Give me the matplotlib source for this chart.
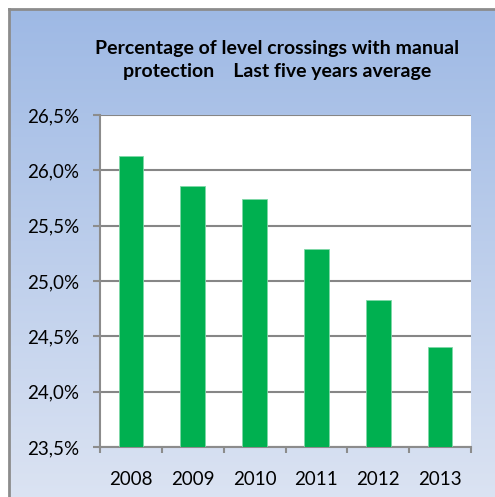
import numpy as np
import matplotlib.pyplot as plt
from matplotlib.lines import Line2D
from matplotlib.ticker import FuncFormatter, FixedLocator

years = ['2008', '2009', '2010', '2011', '2012', '2013']
share = [26.13, 25.86, 25.74, 25.29, 24.83, 24.40]
title = 'Percentage of level crossings with manual\nprotection    Last five years average'

plt.rcParams['font.family'] = ['Lato', 'DejaVu Sans']

fig = plt.figure(figsize=(4.95, 4.97), dpi=100)
fig.patch.set_facecolor('white')

# gradient background inside the chart frame (frame starts ~9px from top/left)
fx, fy = 9 / 495, 1 - 9 / 497
bg = fig.add_axes([fx, 0, 1 - fx, fy], zorder=-10)
grad = np.linspace(0, 1, 256).reshape(-1, 1)
top = np.array([0x9b, 0xb7, 0xe4]) / 255
bot = np.array([0xde, 0xe5, 0xf3]) / 255
img = top[None, None, :] * (1 - grad[..., None]) + bot[None, None, :] * grad[..., None]
bg.imshow(img, aspect='auto', extent=[-0.05, 1.05, -0.05, 1.05])
bg.set_xlim(0, 1)
bg.set_ylim(0, 1)
bg.axis('off')
fig.add_artist(Line2D([fx, 1.0], [fy, fy], color='#8c8c8c', lw=2))
fig.add_artist(Line2D([fx, fx], [0, fy], color='#8c8c8c', lw=2))

ax = fig.add_axes([100 / 495, 50 / 497, 371 / 495, 332 / 497])
x = np.arange(len(years))
ax.bar(x, share, width=0.4, color='#00b050', edgecolor='#7fd8a7', lw=0.6, zorder=3)
ax.set_ylim(23.5, 26.5)
ax.set_xlim(-0.5, len(years) - 0.5)
ax.set_yticks(np.arange(23.5, 26.51, 0.5))
ax.yaxis.set_major_formatter(FuncFormatter(lambda v, p: f'{v:.1f}%'.replace('.', ',')))
ax.set_xticks(x)
ax.set_xticklabels(years)
ax.xaxis.set_minor_locator(FixedLocator(np.arange(-0.5, len(years), 1)))
ax.tick_params(axis='x', which='major', length=0, pad=17, labelsize=13.5)
ax.tick_params(axis='x', which='minor', length=4.5, width=1.5, color='#8c8c8c')
ax.tick_params(axis='y', length=5, width=1.5, color='#8c8c8c', labelsize=13.5, pad=10)
ax.grid(axis='y', color='#868686', lw=1.5, zorder=1)
for s in ['top', 'right']:
    ax.spines[s].set_visible(False)
ax.spines['left'].set_color('#8c8c8c')
ax.spines['left'].set_linewidth(1.5)
ax.spines['bottom'].set_color('#8c8c8c')
ax.spines['bottom'].set_linewidth(1.5)

fig.text(277 / 495, 1 - 60 / 497, title, ha='center', va='center', fontsize=14,
         fontweight='bold', linespacing=1.45)

fig.savefig('out.png', dpi=100)
